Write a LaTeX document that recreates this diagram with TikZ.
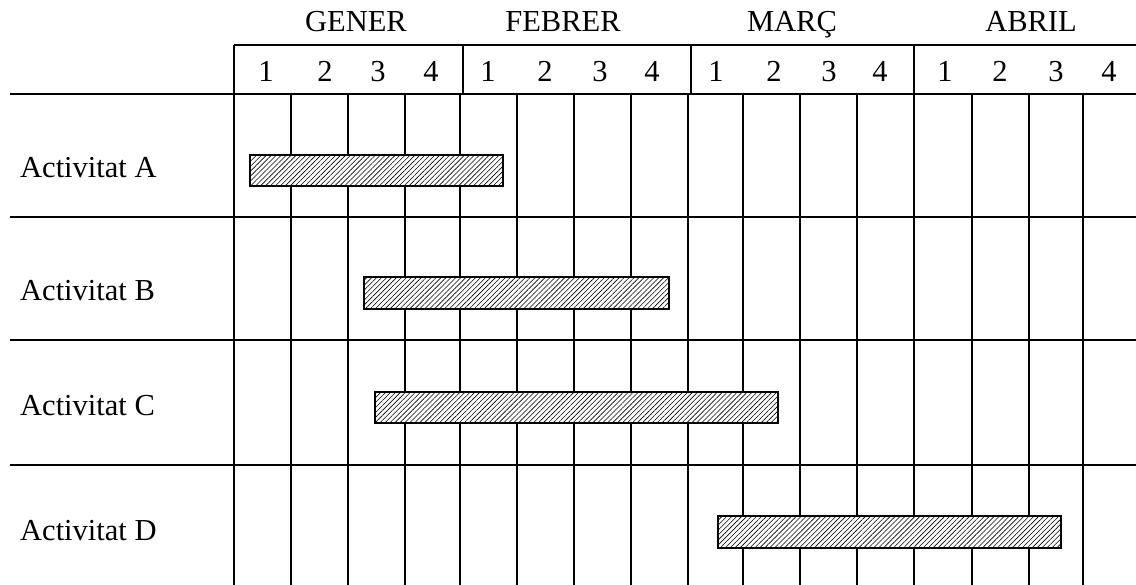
\documentclass[tikz,border=0pt]{standalone}
\usepackage{fontspec}
\setmainfont{Liberation Serif}
\usetikzlibrary{patterns.meta}

\begin{document}
\begin{tikzpicture}[x=1pt, y=-1pt,
    grid/.style={line width=2.2pt, black},
    bar/.style={line width=2.6pt, draw=black, preaction={fill=white},
                pattern={Lines[angle=45, distance=3.5pt, line width=0.6pt]}},
    lbl/.style={font=\fontsize{30.5}{34}\selectfont, inner sep=0pt, anchor=base},
    actlbl/.style={lbl, anchor=base west}
]
    \useasboundingbox (0,0) rectangle (1136,585);

    % header
    \draw[grid] (234,45) -- (1136,45);
    \foreach \xm in {234,463,691,914}
        \draw[grid] (\xm,45) -- (\xm,94);
    \node[lbl] (gener)  at (356,32) {GENER};
    \node[lbl] (febrer) at (563,32) {FEBRER};
    \node[lbl] (marc)   at (792,32) {MARÇ};
    \node[lbl] (abril)  at (1031,32) {ABRIL};
    \foreach \xn/\t [count=\i] in {266/1,325/2,378/3,431/4,488/1,545/2,600/3,652/4,
                                   716/1,774/2,829/3,880/4,945/1,1000/2,1056/3,1109/4}
        \node[lbl] (wk\i) at (\xn,82) {\t};

    % rows
    \foreach \yr in {94,217,340,465}
        \draw[grid] (10,\yr) -- (1136,\yr);
    \foreach \xg in {234,291,348,405,460,517,574,631,688,743,800,857,914,972,1029,1083}
        \draw[grid] (\xg,94) -- (\xg,585);

    % activities
    \node[actlbl] (actA) at (20,178) {Activitat A};
    \node[actlbl] (actB) at (20,301) {Activitat B};
    \node[actlbl] (actC) at (20,416) {Activitat C};
    \node[actlbl] (actD) at (20,540) {Activitat D};

    \draw[bar] (250,155) rectangle (503,186);
    \draw[bar] (364,277) rectangle (669,309);
    \draw[bar] (375,392) rectangle (778,423);
    \draw[bar] (718,516) rectangle (1061,548);
\end{tikzpicture}
\end{document}
